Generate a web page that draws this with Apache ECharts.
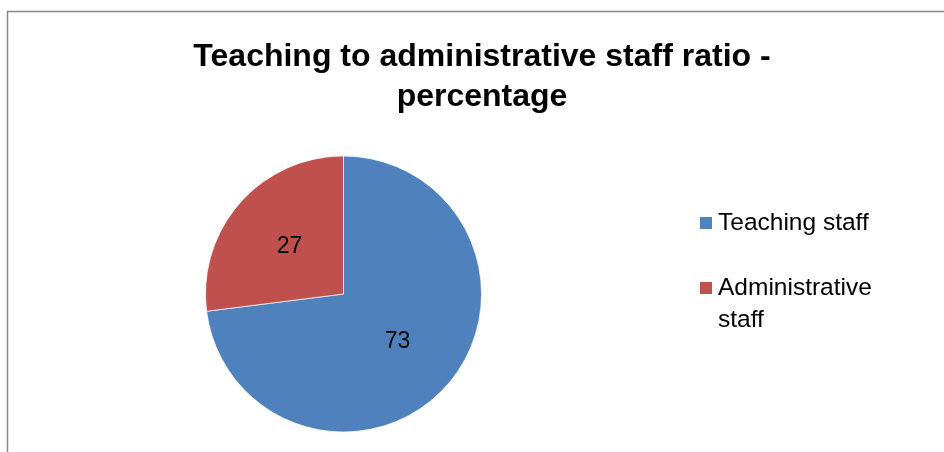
<!DOCTYPE html>
<html lang="en">
<head>
  <meta charset="UTF-8">
  <title>Teaching to administrative staff ratio</title>
  <style>
    html, body { margin: 0; padding: 0; background: #fff; }
    #main { width: 944px; height: 452px; }
  </style>
</head>
<body>
  <div id="main"></div>
  <script src="https://cdn.jsdelivr.net/npm/echarts@6/dist/echarts.min.js"></script>
  <script>
    const categories = ['Teaching staff', 'Administrative staff'];
    const values = [73, 27];
    const colors = ['#4F81BD', '#C0504D'];

    const chart = echarts.init(document.getElementById('main'));
    const font = 'Liberation Sans, Arial, sans-serif';

    const option = {
      animation: false,
      textStyle: { fontFamily: font },
      graphic: [{
        type: 'rect',
        shape: { x: 7.5, y: 11.5, width: 1000, height: 1000 },
        style: { fill: 'none', stroke: '#878787', lineWidth: 1.5 },
        silent: true
      }],
      title: {
        text: 'Teaching to administrative staff ratio -\npercentage',
        left: 482,
        top: 37,
        padding: 0,
        textAlign: 'center',
        textStyle: {
          fontFamily: font,
          fontSize: 32,
          fontWeight: 'bold',
          color: '#000',
          lineHeight: 40
        }
      },
      legend: {
        orient: 'vertical',
        left: 698,
        top: 207,
        padding: 0,
        itemGap: 1,
        itemWidth: 14,
        itemHeight: 14,
        icon: 'rect',
        data: categories,
        formatter: function (name) {
          // second entry wraps, first line aligned with its marker
          return name === 'Administrative staff' ? '\nAdministrative\nstaff' : name;
        },
        textStyle: {
          fontFamily: font,
          fontSize: 24.5,
          color: '#000',
          lineHeight: 32
        },
        selectedMode: false
      },
      series: [{
        type: 'pie',
        center: [343.5, 294],
        radius: 138,
        startAngle: 90,
        clockwise: true,
        silent: true,
        data: categories.map((c, i) => ({
          name: c,
          value: values[i],
          itemStyle: { color: colors[i] }
        })),
        itemStyle: { borderColor: '#fff', borderWidth: 0.7 },
        label: {
          show: true,
          position: 'inside',
          formatter: '{c}',
          fontFamily: font,
          fontSize: 23,
          color: '#000'
        },
        labelLine: { show: false },
        emphasis: { disabled: true }
      }]
    };
    chart.setOption(option);
  </script>
</body>
</html>
